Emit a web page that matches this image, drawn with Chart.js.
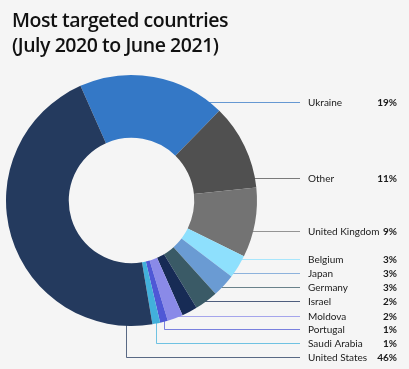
<!DOCTYPE html>
<html>
<head>
<meta charset="utf-8">
<script src="https://cdn.jsdelivr.net/npm/chart.js@4"></script>
<style>
  body { margin: 0; background: #f5f5f5; }
  #wrap { position: relative; width: 409px; height: 369px; }
  #title {
    position: absolute; left: 12px; top: 7px;
    font: 600 19.5px "Open Sans", sans-serif; line-height: 25px; color: #111;
    letter-spacing: -0.45px;
  }
</style>
</head>
<body>
<div id="wrap">
  <canvas id="targetChart"></canvas>
  <div id="title">Most targeted countries<br>(July 2020 to June 2021)</div>
</div>
<script>
// Data
const countries = ["Ukraine", "Other", "United Kingdom", "Belgium", "Japan", "Germany",
  "Israel", "Moldova", "Portugal", "Saudi Arabia", "United States"];
const shares = [19, 11, 9, 3, 3, 3, 2, 2, 1, 1, 46];
const sliceColors = ["#3478c6", "#505050", "#737373", "#8ee0fd", "#6a9bd3", "#3a5a66",
  "#172b55", "#8a8ae8", "#4f58d6", "#42b0db", "#243a5e"];

// Where each label row sits (layout only)
const rowY = [102, 178, 231, 259, 273, 287, 301, 316, 329, 343, 357];
const lineEndX = 300;
const nameX = 308;
const pctX = 397;
const labelFont = '"Lato", sans-serif';

// Leader lines behind the ring, labels on top
const leaderLabels = {
  id: "leaderLabels",
  beforeDatasetsDraw(chart) {
    const ctx = chart.ctx;
    const arcs = chart.getDatasetMeta(0).data;
    ctx.save();
    ctx.lineWidth = 1;
    arcs.forEach((arc, i) => {
      const y = rowY[i] + 0.5;
      const r = arc.outerRadius;
      ctx.strokeStyle = sliceColors[i];
      ctx.globalAlpha = 0.75;
      ctx.beginPath();
      const dy = y - arc.y;
      if (i >= 8) {
        // elbow lines for the bottom slices
        let a = (arc.startAngle + arc.endAngle) / 2;
        if (i === 10) a = arc.startAngle + 12 * Math.PI / 180;
        const x = Math.round(arc.x + r * Math.cos(a)) + 0.5;
        const y0 = arc.y + (r - 4) * Math.sin(a);
        ctx.moveTo(x, y0);
        ctx.lineTo(x, y);
        ctx.lineTo(lineEndX, y);
      } else {
        const x0 = arc.x + Math.sqrt(Math.max(0, r * r - dy * dy)) - 5;
        ctx.moveTo(x0, y);
        ctx.lineTo(lineEndX, y);
      }
      ctx.stroke();
    });
    ctx.restore();
  },
  afterDraw(chart) {
    const ctx = chart.ctx;
    ctx.save();
    ctx.fillStyle = "#1a1a1a";
    ctx.textBaseline = "middle";
    countries.forEach((name, i) => {
      ctx.font = "10px " + labelFont;
      ctx.textAlign = "left";
      ctx.fillText(name, nameX, rowY[i] + 1);
      ctx.font = "bold 10px " + labelFont;
      ctx.textAlign = "right";
      ctx.fillText(shares[i] + "%", pctX, rowY[i] + 1);
    });
    ctx.restore();
  }
};

const ctx = document.getElementById("targetChart").getContext("2d");
const chart = new Chart(ctx, {
  type: "doughnut",
  data: {
    labels: countries,
    datasets: [
      {
        data: shares,
        backgroundColor: sliceColors,
        borderWidth: 0,
      },
    ],
  },
  options: {
    responsive: true,
    maintainAspectRatio: false,
    animation: false,
    cutout: "50%",
    rotation: -24,
    layout: {
      padding: { left: 6, top: 75, right: 152, bottom: 43 },
    },
    plugins: {
      legend: { display: false },
      tooltip: { enabled: false },
    },
  },
  plugins: [leaderLabels],
});
</script>
</body>
</html>
